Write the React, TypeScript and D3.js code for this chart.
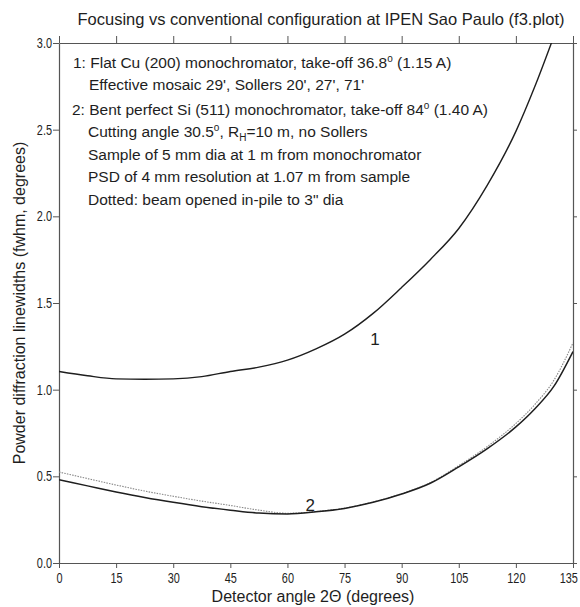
import React, { useRef, useEffect } from 'react';
import * as d3 from 'd3';

// detector angle 2theta (degrees) and fwhm linewidths
const angles = [0, 7.5, 15, 22.5, 30, 37.5, 45, 52.5, 60, 67.5, 75, 82.5, 90, 97.5, 105, 112.5, 120, 125, 130, 135];
const flatCu = [1.105, 1.08, 1.062, 1.06, 1.062, 1.075, 1.105, 1.13, 1.17, 1.235, 1.32, 1.44, 1.59, 1.75, 1.93, 2.18, 2.49, 2.75, 3.04, null];
const bentSi = [0.48, 0.445, 0.41, 0.378, 0.35, 0.325, 0.305, 0.288, 0.283, 0.295, 0.315, 0.35, 0.398, 0.46, 0.555, 0.66, 0.785, 0.89, 1.02, 1.22];
const bentSiOpen = [0.525, 0.487, 0.45, 0.415, 0.385, 0.357, 0.332, 0.305, 0.287, 0.297, 0.317, 0.352, 0.4, 0.463, 0.562, 0.672, 0.805, 0.915, 1.055, 1.27];

const xTicks = [0, 15, 30, 45, 60, 75, 90, 105, 120, 135];
const yTicks = [0, 0.5, 1, 1.5, 2, 2.5, 3];

const W = 580;
const H = 607;
const sans = '"Liberation Sans", Arial, sans-serif';
const ink = '#1e1e1e';

const FocusingChart = () => {
  const ref = useRef(null);

  useEffect(() => {
    d3.select(ref.current).selectAll('*').remove();
    const margin = { top: 43, right: 7, bottom: 44, left: 59 };

    const svg = d3.select(ref.current)
      .append('svg')
      .attr('width', W)
      .attr('height', H)
      .style('position', 'absolute')
      .style('left', 0)
      .style('top', 0)
      .style('background', '#fff')
      .style('font-family', sans);

    const x = d3.scaleLinear().domain([0, 135]).range([margin.left, W - margin.right]);
    const y = d3.scaleLinear().domain([0, 3]).range([H - margin.bottom, margin.top]);

    svg.append('defs').append('clipPath').attr('id', 'plot-clip')
      .append('rect')
      .attr('x', x(0)).attr('y', y(3))
      .attr('width', x(135) - x(0)).attr('height', y(0) - y(3));

    // axes on all four sides, tick numbers are a narrow face
    const axisStyle = g => {
      g.select('.domain').attr('stroke', '#555').attr('stroke-width', 1.2);
      g.selectAll('.tick line').attr('stroke', '#555').attr('stroke-width', 1);
      g.selectAll('.tick text')
        .attr('fill', ink)
        .style('font-family', sans)
        .style('font-size', '14px')
        .attr('transform', 'scale(0.78,1)');
    };

    const xAxis = svg.append('g')
      .attr('transform', `translate(0,${y(0)})`)
      .call(d3.axisBottom(x).tickValues(xTicks).tickSize(5).tickSizeOuter(0).tickPadding(5))
      .call(axisStyle);
    // last label sits against the page edge, nudge it in
    xAxis.selectAll('.tick text').filter(d => d === 135).attr('x', -6);

    svg.append('g')
      .attr('transform', `translate(0,${y(3)})`)
      .call(d3.axisTop(x).tickValues(xTicks).tickSize(7).tickSizeOuter(0).tickFormat(() => ''))
      .call(axisStyle);

    svg.append('g')
      .attr('transform', `translate(${x(0)},0)`)
      .call(d3.axisLeft(y).tickValues(yTicks).tickSize(6).tickSizeOuter(0).tickPadding(3).tickFormat(d3.format('.1f')))
      .call(axisStyle);

    svg.append('g')
      .attr('transform', `translate(${x(135)},0)`)
      .call(d3.axisRight(y).tickValues(yTicks).tickSize(4).tickSizeOuter(0).tickFormat(() => ''))
      .call(axisStyle);

    // curves
    const line = d3.line()
      .defined(d => d[1] != null)
      .x(d => x(d[0]))
      .y(d => y(d[1]))
      .curve(d3.curveMonotoneX);

    const plot = svg.append('g').attr('clip-path', 'url(#plot-clip)');

    plot.append('path')
      .attr('d', line(angles.map((a, i) => [a, bentSiOpen[i]])))
      .attr('fill', 'none')
      .attr('stroke', '#888')
      .attr('stroke-width', 1.1)
      .attr('stroke-dasharray', '1.5,1.2');

    plot.append('path')
      .attr('d', line(angles.map((a, i) => [a, bentSi[i]])))
      .attr('fill', 'none')
      .attr('stroke', ink)
      .attr('stroke-width', 1.5);

    plot.append('path')
      .attr('d', line(angles.map((a, i) => [a, flatCu[i]])))
      .attr('fill', 'none')
      .attr('stroke', ink)
      .attr('stroke-width', 1.4);

    svg.append('text')
      .attr('x', x(83)).attr('y', y(1.26))
      .attr('text-anchor', 'middle')
      .style('font-size', '17px').attr('fill', ink)
      .text('1');

    svg.append('text')
      .attr('x', x(66)).attr('y', y(0.3))
      .attr('text-anchor', 'middle')
      .style('font-size', '17px').attr('fill', ink)
      .text('2');

    // title and axis labels
    svg.append('text')
      .attr('x', 321).attr('y', 25)
      .attr('text-anchor', 'middle')
      .style('font-size', '16.5px').attr('fill', ink)
      .text('Focusing vs conventional configuration at IPEN Sao Paulo (f3.plot)');

    svg.append('text')
      .attr('x', 313).attr('y', 602)
      .attr('text-anchor', 'middle')
      .style('font-size', '16px').attr('fill', ink)
      .text('Detector angle 2\u0398 (degrees)');

    svg.append('text')
      .attr('transform', `translate(25,${(y(0) + y(3)) / 2}) rotate(-90)`)
      .attr('text-anchor', 'middle')
      .style('font-size', '16px').attr('fill', ink)
      .text('Powder diffraction linewidths (fwhm, degrees)');

    // annotation block
    const note = svg.append('g')
      .style('font-size', '15.5px').attr('fill', ink);

    const l1 = note.append('text').attr('x', 73).attr('y', 68);
    l1.append('tspan').text('1: Flat Cu (200) monochromator, take-off 36.8');
    l1.append('tspan').attr('dy', -6).style('font-size', '10px').text('o');
    l1.append('tspan').attr('dy', 6).text(' (1.15 A)');

    note.append('text').attr('x', 89).attr('y', 90)
      .text('Effective mosaic  29\', Sollers 20\', 27\', 71\'');

    const l3 = note.append('text').attr('x', 72).attr('y', 115);
    l3.append('tspan').text('2: Bent perfect Si (511) monochromator, take-off 84');
    l3.append('tspan').attr('dy', -6).style('font-size', '10px').text('o');
    l3.append('tspan').attr('dy', 6).text(' (1.40 A)');

    const l4 = note.append('text').attr('x', 88).attr('y', 137);
    l4.append('tspan').text('Cutting angle 30.5');
    l4.append('tspan').attr('dy', -6).style('font-size', '10px').text('o');
    l4.append('tspan').attr('dy', 6).text(', R');
    l4.append('tspan').attr('dy', 4).style('font-size', '10px').text('H');
    l4.append('tspan').attr('dy', -4).text('=10 m, no Sollers');

    note.append('text').attr('x', 88).attr('y', 159.5)
      .text('Sample of 5 mm dia at 1 m from monochromator');

    note.append('text').attr('x', 88).attr('y', 182)
      .text('PSD of 4 mm resolution at 1.07 m from sample');

    note.append('text').attr('x', 88).attr('y', 204.5)
      .text('Dotted: beam opened in-pile to 3" dia');
  }, []);

  return <div ref={ref} />;
};

export default function App() {
  return <FocusingChart />;
}
